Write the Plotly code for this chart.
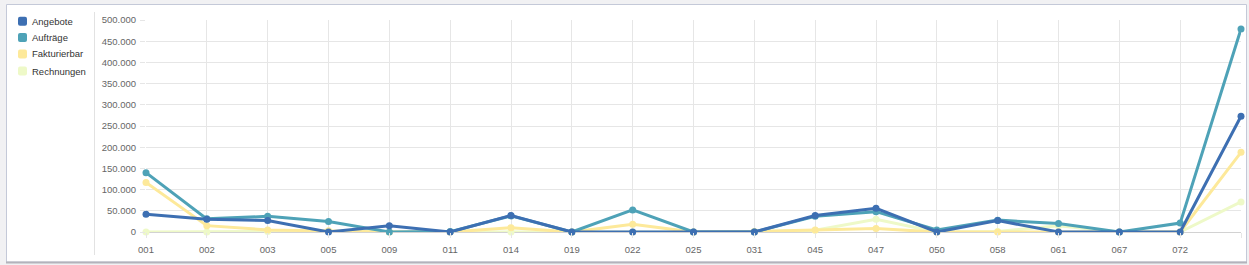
import plotly.graph_objects as go

categories = ['001', '002', '003', '005', '009', '011', '014', '019', '022', '025',
              '031', '045', '047', '050', '058', '061', '067', '072', '']

angebote = [42000, 30000, 27000, 0, 15000, 0, 39000, 0, 0, 0,
            0, 39000, 56000, 0, 27000, 0, 0, 0, 273000]
auftraege = [140000, 31000, 37000, 25000, 0, 1000, 38000, 0, 52000, 0,
             0, 37000, 48000, 5000, 28000, 20000, 0, 21000, 479000]
fakturierbar = [117000, 15000, 5000, 3000, 0, 0, 10000, 0, 18000, 0,
                1000, 5000, 8000, 0, 0, 0, 0, 0, 188000]
rechnungen = [0, 0, 1000, 2000, 0, 0, 0, 0, 0, 0,
              0, 4000, 30000, 0, 1000, 15000, 0, 0, 71000]

series_names = ['Angebote', 'Aufträge', 'Fakturierbar', 'Rechnungen']
series_values = [angebote, auftraege, fakturierbar, rechnungen]
series_colors = ['#3d6fb2', '#4ea2b7', '#fde99a', '#eef9c8']

y_max = 500000
y_step = 50000

W, H = 1249, 265
ML, MR, MT, MB = 146, 8, 20, 33
PW, PH = W - ML - MR, H - MT - MB


def px(x):
    return (x - ML) / PW


def py(y):
    return (H - MB - y) / PH


xs = list(range(len(categories)))

fig = go.Figure()
# draw lightest first so Angebote ends on top
for name, vals, col in reversed(list(zip(series_names, series_values, series_colors))):
    fig.add_trace(go.Scatter(
        x=xs, y=vals, name=name, mode='lines+markers',
        line=dict(color=col, width=3),
        marker=dict(color=col, size=7),
        cliponaxis=False, showlegend=False,
        hovertemplate='%{y:,}<extra>' + name + '</extra>'))

shapes = [
    # card frame
    dict(type='rect', xref='paper', yref='paper', x0=px(6.5), x1=px(1246.5),
         y0=py(262), y1=py(4.5), fillcolor='white',
         line=dict(color='#c4c9d8', width=1), layer='below'),
    dict(type='line', xref='paper', yref='paper', x0=px(6), x1=px(1247),
         y0=py(262.5), y1=py(262.5), line=dict(color='#b3b3bb', width=2), layer='below'),
    # separator between legend and chart
    dict(type='line', xref='paper', yref='paper', x0=px(94.5), x1=px(94.5),
         y0=py(255), y1=py(12), line=dict(color='#e2e2e2', width=1), layer='below'),
]

annotations = []
legend_y = [21.3, 37.5, 54, 71]
for name, col, yc in zip(series_names, series_colors, legend_y):
    r = 2
    x0, x1 = 18, 27
    y0, y1 = yc - 4.5, yc + 4.5
    path = (f"M {px(x0 + r)},{py(y0)} L {px(x1 - r)},{py(y0)} "
            f"Q {px(x1)},{py(y0)} {px(x1)},{py(y0 + r)} "
            f"L {px(x1)},{py(y1 - r)} Q {px(x1)},{py(y1)} {px(x1 - r)},{py(y1)} "
            f"L {px(x0 + r)},{py(y1)} Q {px(x0)},{py(y1)} {px(x0)},{py(y1 - r)} "
            f"L {px(x0)},{py(y0 + r)} Q {px(x0)},{py(y0)} {px(x0 + r)},{py(y0)} Z")
    shapes.append(dict(type='path', xref='paper', yref='paper', path=path,
                       fillcolor=col, line=dict(width=0), layer='above'))
    annotations.append(dict(xref='paper', yref='paper', x=px(30), y=py(yc),
                            xanchor='left', yanchor='middle', showarrow=False,
                            text=name, font=dict(size=9.5, color='#333333')))

fig.update_layout(
    width=W, height=H,
    margin=dict(l=ML, r=MR, t=MT, b=MB, pad=0),
    paper_bgcolor='#f1f1f3', plot_bgcolor='white',
    font=dict(family='Liberation Sans, Arial, Helvetica, sans-serif', size=9.5, color='#666666'),
    separators=',.',
    showlegend=False,
    shapes=shapes,
    annotations=annotations,
    xaxis=dict(
        range=[0, len(categories) - 1],
        tickmode='array', tickvals=xs, ticktext=categories,
        showgrid=True, gridcolor='#e6e6e6', gridwidth=1,
        ticks='outside', ticklen=5, tickcolor='#e6e6e6',
        ticklabelstandoff=4,
        tickfont=dict(size=9.5, color='#666666'),
        zeroline=False, showline=False, fixedrange=True,
    ),
    yaxis=dict(
        range=[0, y_max], dtick=y_step, tick0=0, tickformat=',d',
        showgrid=True, gridcolor='#e6e6e6', gridwidth=1,
        ticks='outside', ticklen=5, tickcolor='#e6e6e6',
        ticklabelstandoff=2,
        tickfont=dict(size=9.5, color='#666666'),
        zeroline=True, zerolinecolor='#d2d2d2', zerolinewidth=1,
        showline=False, fixedrange=True,
    ),
)

fig.write_html('out.html', config={'displayModeBar': False})
